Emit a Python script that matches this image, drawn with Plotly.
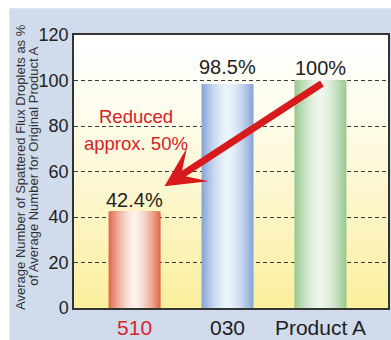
import plotly.graph_objects as go

# ---- data ----
categories = ["510", "030", "Product A"]
values = [42.4, 98.5, 100.0]
value_labels = ["42.4%", "98.5%", "100%"]
y_ticks = [0, 20, 40, 60, 80, 100, 120]
y_title_1 = "Average Number of Spattered Flux Droplets as %"
y_title_2 = "of Average Number for Original Product A"
note_1 = "Reduced"
note_2 = "approx. 50%"

edge_colors = [(223, 106, 74), (136, 165, 214), (152, 200, 144)]
center_colors = [(253, 242, 236), (236, 245, 253), (240, 246, 238)]
label_colors = ["#d7242a", "#222222", "#222222"]

FONT = "Liberation Sans, Arial, sans-serif"

def mix(c1, c2, t):
    return "rgb(%d,%d,%d)" % tuple(round(a + (b - a) * t) for a, b in zip(c1, c2))

fig = go.Figure()

# gradient bars built from overlaid bars of decreasing width
N = 24
BW = 0.56
for i, v in enumerate(values):
    for k in range(N):
        f = 1 - k / N  # 1 at edge, ->0 at center
        w = BW * f
        t = 1 - f ** 1.6
        fig.add_trace(go.Bar(
            x=[i], y=[v], width=w,
            marker=dict(color=mix(edge_colors[i], center_colors[i], t), line=dict(width=0)),
            showlegend=False, hoverinfo="skip"))

fig.update_layout(
    barmode="overlay",
    width=391, height=340,
    margin=dict(l=74, r=1, t=35, b=29),
    paper_bgcolor="white",
    plot_bgcolor="rgba(0,0,0,0)",
    font=dict(family=FONT, color="#222222"),
)

shapes = []
# light blue panel
shapes.append(dict(type="rect", xref="paper", yref="paper",
                   x0=(9 - 74) / 316, x1=1.01, y0=-0.2, y1=(311 - 8) / 276,
                   fillcolor="#d0dbec", line=dict(width=0), layer="below"))
# plot area gradient (white top -> yellow bottom)
top_c = (255, 255, 255)
bot_c = (250, 239, 156)
NB = 60
for k in range(NB):
    y0 = k / NB
    y1 = (k + 1) / NB
    t = 1 - (y0 + y1) / 2  # 0 at top, 1 at bottom
    shapes.append(dict(type="rect", xref="paper", yref="paper",
                       x0=0, x1=1, y0=y0, y1=y1 + 0.002,
                       fillcolor=mix(top_c, bot_c, t ** 1.3), line=dict(width=0), layer="below"))
fig.update_layout(shapes=shapes)

ticktext = ["<span style='color:%s'>%s</span>" % (c, s) for c, s in zip(label_colors, categories)]
fig.update_xaxes(range=[-0.652, 2.727], tickvals=list(range(len(categories))), ticktext=ticktext,
                 tickfont=dict(size=21, family=FONT), showgrid=False, zeroline=False,
                 showline=True, linecolor="#333333", linewidth=1.5, mirror=True, ticks="")
fig.update_yaxes(range=[0, 120], tickvals=y_ticks, tickfont=dict(size=18, family=FONT, color="#222222"),
                 showgrid=True, gridcolor="#3a3a3a", gridwidth=1, griddash="4px,3px",
                 zeroline=False, showline=True, linecolor="#333333", linewidth=1.5, mirror=True,
                 ticks="", layer="below traces")

ann = []
yshifts = [-1, 4, 0]
for i, (v, lab) in enumerate(zip(values, value_labels)):
    ann.append(dict(x=i, y=v, xref="x", yref="y", text=lab, showarrow=False,
                    yanchor="bottom", xanchor="center", yshift=yshifts[i],
                    font=dict(size=20, family=FONT, color="#222222")))
# red arrow from Product A down to 510
ann.append(dict(x=0.321, y=53.5, xref="x", yref="y", ax=2.032, ay=99.1, axref="x", ayref="y",
                text="", showarrow=True, arrowhead=3, arrowsize=0.95, arrowwidth=7,
                arrowcolor="#d71a1c"))
ann.append(dict(x=0.02, y=84.3, xref="x", yref="y", text=note_1, showarrow=False,
                font=dict(size=18.5, family=FONT, color="#d42228")))
ann.append(dict(x=0.02, y=72.2, xref="x", yref="y", text=note_2, showarrow=False,
                font=dict(size=18.5, family=FONT, color="#d42228")))
# y axis title (two lines)
ann.append(dict(x=(20 - 74) / 316, y=(311 - 168) / 276, xref="paper", yref="paper",
                text=y_title_1, textangle=-90, showarrow=False, xanchor="center", yanchor="middle",
                font=dict(size=13, family=FONT, color="#333333")))
ann.append(dict(x=(33 - 74) / 316, y=(311 - 168) / 276, xref="paper", yref="paper",
                text=y_title_2, textangle=-90, showarrow=False, xanchor="center", yanchor="middle",
                font=dict(size=13, family=FONT, color="#333333")))
fig.update_layout(annotations=ann)

fig.write_html("out.html", config={"displayModeBar": False},
               post_script="document.body.style.margin='0';")
